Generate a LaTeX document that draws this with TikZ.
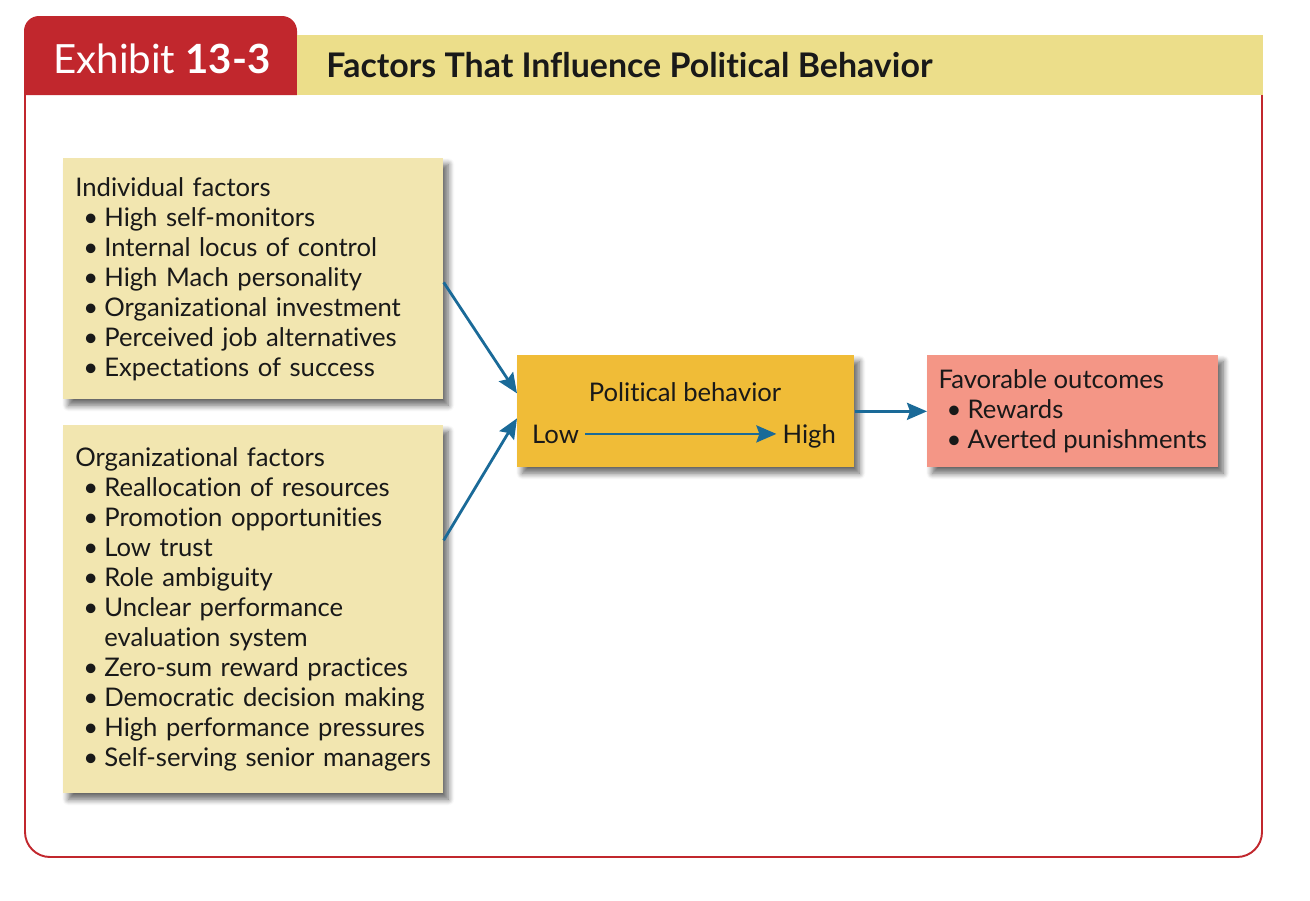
\documentclass[tikz,border=0pt]{standalone}
\usepackage{fontspec}
\setmainfont{Lato}[Ligatures=NoCommon]
\usetikzlibrary{arrows.meta,shadows.blur}
\definecolor{exred}{HTML}{C1272D}
\definecolor{headyel}{HTML}{ECDE8A}
\definecolor{boxyel}{HTML}{F2E6B0}
\definecolor{polyel}{HTML}{F0BC37}
\definecolor{outred}{HTML}{F49686}
\definecolor{arrblue}{HTML}{1A6A98}
\newcommand{\bul}{\makebox[0.58cm][l]{\hspace{0.16cm}\textbullet}}
\tikzset{
  basebox/.style={anchor=north west, inner xsep=0.24cm, inner ysep=0pt, align=left,
    font=\fontsize{14.6}{17.07}\selectfont, text=black!90,
    blur shadow={shadow xshift=0.1cm, shadow yshift=-0.12cm, shadow blur steps=8,
      shadow blur radius=0.12cm, shadow opacity=60}},
  factbox/.style={basebox, fill=boxyel, text width=7.12cm},
  outbox/.style={basebox, fill=outred, inner xsep=0pt, minimum width=5.82cm, minimum height=2.24cm},
  polbox/.style={basebox, fill=polyel, minimum width=6.74cm, minimum height=2.24cm},
  flow/.style={draw=arrblue, line width=1.6pt, -{Stealth[length=0.4cm, width=0.34cm, inset=0.06cm]}},
  btext/.style={font=\fontsize{14.6}{17.07}\selectfont, text=black!90}
}
\begin{document}
\begin{tikzpicture}[x=0.02cm, y=-0.02cm]
  \useasboundingbox (0,0) rectangle (1310,900);
  \fill[exred] (24,95) [rounded corners=0.3cm] -- (24,16) -- (297,16) [sharp corners] -- (297,95) -- cycle;
  \fill[headyel] (297,35) rectangle (1263,95);
  \draw[exred, line width=1.1pt, rounded corners=0.5cm] (25,95) -- (25,857) -- (1262,857) -- (1262,95);
  \node[anchor=base west, inner sep=0pt, text=white, font=\fontsize{22.9}{27}\selectfont] (exh) at (53,73) {Exhibit \textbf{13-3}};
  \node[anchor=base west, inner sep=0pt, text=black!90, font=\fontsize{19.3}{23}\selectfont\bfseries] (title) at (326,77) {Factors That Influence Political Behavior};

  \node[factbox, minimum height=4.82cm] (ind) at (63,158) {Individual factors\\
    \bul High self-monitors\\
    \bul Internal locus of control\\
    \bul High Mach personality\\
    \bul Organizational investment\\
    \bul Perceived job alternatives\\
    \bul Expectations of success};
  \node[factbox, minimum height=7.36cm] (org) at (63,425) {Organizational factors\\
    \bul Reallocation of resources\\
    \bul Promotion opportunities\\
    \bul Low trust\\
    \bul Role ambiguity\\
    \bul Unclear performance\\
    \hspace*{0.58cm}evaluation system\\
    \bul Zero-sum reward practices\\
    \bul Democratic decision making\\
    \bul High performance pressures\\
    \bul Self-serving senior managers};
  \node[polbox] (pol) at (517,355) {};
  \node[btext, anchor=base] (pb) at (685,401) {Political behavior};
  \node[btext, anchor=base west] (low) at (526,443) {Low};
  \node[btext, anchor=base east] (high) at (842,443) {High};
  \node[outbox] (fav) at (927,355) {Favorable outcomes\\
    \bul Rewards\\
    \bul Averted punishments};

  \begin{scope}[flow]
    \draw ([yshift=-0.07cm]ind.east) to ([yshift=0.36cm]pol.west);
    \draw ([yshift=1.38cm]org.east) to ([yshift=-0.14cm]pol.west);
    \draw (low) to (low -| high.west);
    \draw (pol.east) to (fav.west);
  \end{scope}
\end{tikzpicture}
\end{document}
